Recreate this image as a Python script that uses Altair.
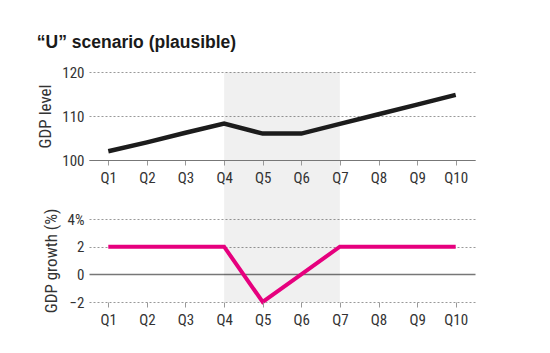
import altair as alt
import pandas as pd

quarters = ["Q1", "Q2", "Q3", "Q4", "Q5", "Q6", "Q7", "Q8", "Q9", "Q10"]
gdp_level = [102, 104, 106.2, 108.3, 106, 106, 108.2, 110.4, 112.6, 114.8]
gdp_growth = [2, 2, 2, 2, -2, 0, 2, 2, 2, 2]
shade_start = ["Q4"]
shade_end = ["Q7"]
level_ticks = [100, 110, 120]
growth_ticks = [-2, 0, 2, 4]

df = pd.DataFrame({"q": quarters, "level": gdp_level, "growth": gdp_growth})
shade = pd.DataFrame({"start": shade_start, "end": shade_end})

FONT = "Roboto Condensed, Liberation Sans Narrow, DejaVu Sans Condensed, Roboto, sans-serif"
W = 386
H1 = 88
H2 = 83
GAP = 59

xscale = alt.Scale(type="point", domain=quarters, padding=0.5)

def xaxis(domain):
    return alt.Axis(title=None, labelAngle=0, domain=domain, domainColor="#777",
                    domainWidth=1.2, ticks=True, tickSize=5, tickColor="#999",
                    labelPadding=5, labelFontSize=15, labelColor="#333",
                    labelFont=FONT, grid=False, zindex=1)

def yaxis(title, values, **kw):
    return alt.Axis(title=title, values=values, grid=True, domain=False,
                    ticks=False, labelPadding=5, labelFontSize=15,
                    labelColor="#333", labelFont=FONT, titleFont=FONT,
                    titleFontSize=17, titleFontWeight="normal",
                    titleColor="#333", titlePadding=7, **kw)

shade_top = alt.Chart(shade).mark_rect(color="#000", opacity=0.06).encode(
    x=alt.X("start:N", scale=xscale, sort=quarters, axis=xaxis(True)),
    x2="end:N",
    y=alt.value(0),
    y2=alt.value(H1 + GAP),
)

line_top = alt.Chart(df).mark_line(color="#1c1c1c", strokeWidth=4.5).encode(
    x=alt.X("q:N", scale=xscale, sort=quarters, axis=xaxis(True)),
    y=alt.Y("level:Q", scale=alt.Scale(domain=[100, 120], nice=False, zero=False),
            axis=yaxis("GDP level", level_ticks, gridDash=[2, 2], gridColor="#999")),
)

top = alt.layer(shade_top, line_top).properties(width=W, height=H1)

shade_bot = alt.Chart(shade).mark_rect(color="#000", opacity=0.06).encode(
    x=alt.X("start:N", scale=xscale, sort=quarters, axis=xaxis(False)),
    x2="end:N",
    y=alt.value(0),
    y2=alt.value(H2),
)

line_bot = alt.Chart(df).mark_line(color="#e6007e", strokeWidth=4).encode(
    x=alt.X("q:N", scale=xscale, sort=quarters, axis=xaxis(False)),
    y=alt.Y("growth:Q", scale=alt.Scale(domain=[-2, 4], nice=False, zero=False),
            axis=yaxis("GDP growth (%)", growth_ticks,
                       gridDash=alt.condition("datum.value == 0", alt.value([]), alt.value([2, 2])),
                       gridColor=alt.condition("datum.value == 0", alt.value("#777"), alt.value("#999")),
                       gridWidth=alt.condition("datum.value == 0", alt.value(1.3), alt.value(1)),
                       labelExpr="datum.value == 4 ? '4%' : datum.label")),
)

bottom = alt.layer(shade_bot, line_bot).properties(width=W, height=H2)

chart = alt.vconcat(top, bottom, spacing=GAP, bounds="flush").properties(
    title=alt.TitleParams("“U” scenario (plausible)", anchor="start",
                          font="Liberation Sans, Arial, sans-serif", fontSize=17.5,
                          fontWeight="bold", color="#1a1a1a", offset=14),
    padding={"left": 36, "top": 33, "right": 20, "bottom": 10},
    background="white",
).configure_view(stroke=None)

chart.save("out.html", embed_options={"renderer": "svg", "actions": False})
